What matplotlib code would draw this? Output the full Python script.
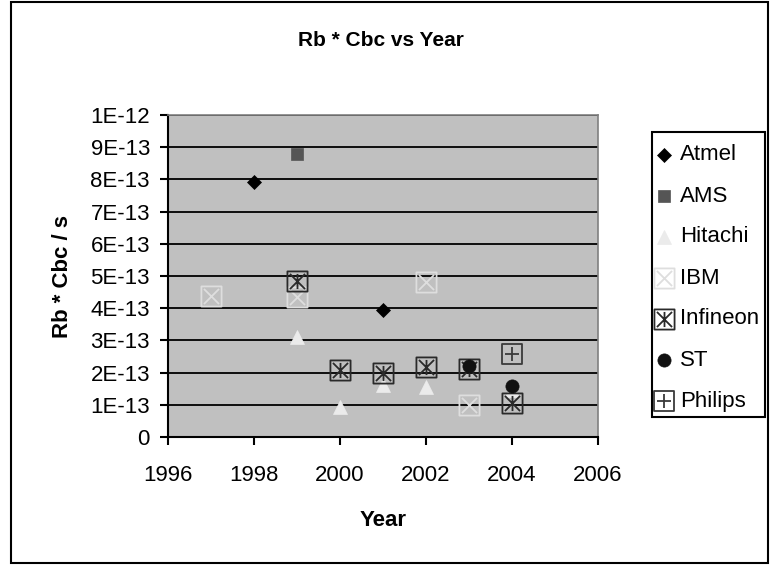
import matplotlib
matplotlib.use("Agg")
import matplotlib.pyplot as plt
from matplotlib.path import Path
from matplotlib.lines import Line2D
from matplotlib.patches import Rectangle

plt.rcParams['font.family'] = ['Liberation Sans', 'DejaVu Sans']

# ---- data ----
atmel_x = [1998, 2001]
atmel_y = [7.93e-13, 3.94e-13]
ams_x = [1999]
ams_y = [8.8e-13]
hitachi_x = [1999, 2000, 2001, 2002, 2004]
hitachi_y = [3.1e-13, 0.92e-13, 1.6e-13, 1.55e-13, 1.45e-13]
ibm_x = [1997, 1999, 2002, 2003]
ibm_y = [4.38e-13, 4.36e-13, 4.82e-13, 1.0e-13]
infineon_x = [1999, 2000, 2001, 2002, 2003, 2004]
infineon_y = [4.85e-13, 2.08e-13, 1.98e-13, 2.16e-13, 2.1e-13, 1.05e-13]
st_x = [2003, 2004]
st_y = [2.2e-13, 1.58e-13]
philips_x = [2004]
philips_y = [2.58e-13]

x_ticks = [1996, 1998, 2000, 2002, 2004, 2006]
y_ticks = [0, 1e-13, 2e-13, 3e-13, 4e-13, 5e-13, 6e-13, 7e-13, 8e-13, 9e-13, 1e-12]
y_tick_labels = ['0', '1E-13', '2E-13', '3E-13', '4E-13', '5E-13', '6E-13',
                 '7E-13', '8E-13', '9E-13', '1E-12']
series_names = ['Atmel', 'AMS', 'Hitachi', 'IBM', 'Infineon', 'ST', 'Philips']

# ---- custom markers ----
M, L, C = Path.MOVETO, Path.LINETO, Path.CLOSEPOLY
sq = [(-1, -1), (1, -1), (1, 1), (-1, 1), (-1, -1)]
sq_codes = [M, L, L, L, C]
d = 0.75
ibm_marker = Path(sq + [(-d, -d), (d, d), (-d, d), (d, -d)], sq_codes + [M, L, M, L])
infineon_marker = Path(sq + [(-d, -d), (d, d), (-d, d), (d, -d), (0, -d), (0, d)],
                       sq_codes + [M, L, M, L, M, L])
philips_marker = Path(sq + [(-d, 0), (d, 0), (0, -d), (0, d)], sq_codes + [M, L, M, L])

W, H = 771, 565
fig = plt.figure(figsize=(W / 100, H / 100), dpi=100)
fig.patch.set_facecolor('white')

left, right, top, bottom = 168, 598, 115, 437
ax = fig.add_axes([left / W, 1 - bottom / H, (right - left) / W, (bottom - top) / H])
ax.set_facecolor('#c0c0c0')

series_data = [(atmel_x, atmel_y), (ams_x, ams_y), (hitachi_x, hitachi_y), (ibm_x, ibm_y),
               (infineon_x, infineon_y), (st_x, st_y), (philips_x, philips_y)]
styles = [
    dict(marker='D', ms=6.8, mfc='black', mec='black', mew=0.5),
    dict(marker='s', ms=8, mfc='#555555', mec='#555555', mew=0.5),
    dict(marker='^', ms=10, mfc='#ebebeb', mec='#ebebeb', mew=0.5),
    dict(marker=ibm_marker, ms=14.5, mfc='none', mec='#dedede', mew=1.3),
    dict(marker=infineon_marker, ms=14.5, mfc='none', mec='#2a2a2a', mew=1.3),
    dict(marker='o', ms=9.5, mfc='#111111', mec='#111111', mew=0.5),
    dict(marker=philips_marker, ms=14, mfc='none', mec='#3a3a3a', mew=1.3),
]

for i, ((xs, ys), st) in enumerate(zip(series_data, styles)):
    ax.plot(xs, ys, linestyle='none', zorder=3 + i, clip_on=False, label=series_names[i], **st)

ax.set_xlim(1996, 2006)
ax.set_ylim(0, 1e-12)
ax.set_xticks(x_ticks)
ax.set_xticklabels([str(v) for v in x_ticks])
ax.set_yticks(y_ticks)
ax.set_yticklabels(y_tick_labels)
ax.tick_params(axis='both', direction='out', length=6, width=1.5, colors='black',
               labelsize=16)
ax.tick_params(axis='y', pad=7)
ax.tick_params(axis='x', pad=14)
ax.yaxis.grid(True, color='black', linewidth=1.3)
ax.xaxis.grid(False)
ax.set_axisbelow(True)
for s in ['left', 'bottom']:
    ax.spines[s].set_color('black')
    ax.spines[s].set_linewidth(1.5)
for s in ['top', 'right']:
    ax.spines[s].set_color('#808080')
    ax.spines[s].set_linewidth(1.2)

fig.text(381 / W, 1 - 40 / H, 'Rb * Cbc vs Year', ha='center', va='center',
         fontsize=15, fontweight='bold')
fig.text(383 / W, 1 - 521 / H, 'Year', ha='center', va='center',
         fontsize=16, fontweight='bold')
fig.text(62 / W, 1 - 277 / H, 'Rb * Cbc / s', ha='center', va='center',
         rotation=90, fontsize=16, fontweight='bold')

# ---- legend (drawn manually for exact layout) ----
leg_l, leg_t, leg_r, leg_b = 652, 132, 765, 417
fig.patches.append(Rectangle((leg_l / W, 1 - leg_b / H), (leg_r - leg_l) / W,
                             (leg_b - leg_t) / H, transform=fig.transFigure,
                             facecolor='white', edgecolor='black', linewidth=1.5,
                             zorder=5))
for i, (name, st) in enumerate(zip(series_names, styles)):
    yy = 155 + 41 * i
    fig.add_artist(Line2D([664 / W], [1 - yy / H], transform=fig.transFigure,
                          linestyle='none', zorder=6, **st))
    fig.text(680 / W, 1 - yy / H, name, ha='left', va='center', fontsize=16, zorder=6)

fig.patches.append(Rectangle((11 / W, 2 / H), (768 - 11) / W, (563 - 2) / H,
                             transform=fig.transFigure, fill=False,
                             edgecolor='black', linewidth=1.5))

fig.savefig('out.png', dpi=100)
